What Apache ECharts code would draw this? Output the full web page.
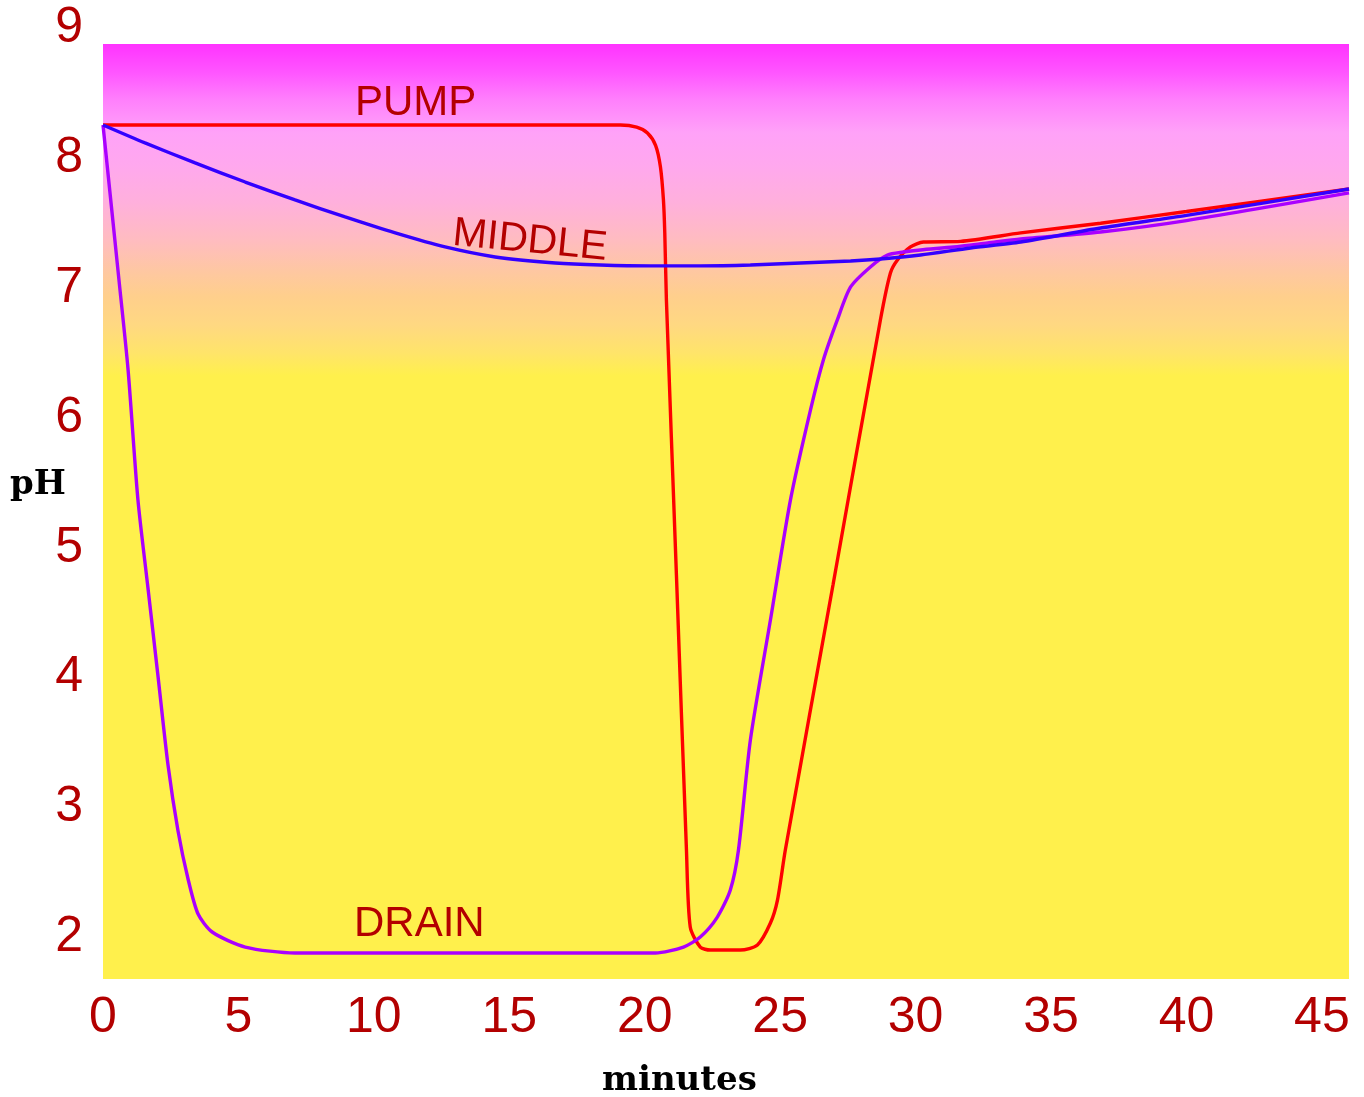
<!DOCTYPE html>
<html>
<head>
<meta charset="utf-8">
<script src="https://cdn.jsdelivr.net/npm/echarts@6/dist/echarts.min.js"></script>
<style>
html,body{margin:0;padding:0;background:#fff;}
#chart{width:1364px;height:1097px;}
</style>
</head>
<body>
<div id="chart"></div>
<script>
// ---- data (minutes, pH) ----
const xTicks = [0, 5, 10, 15, 20, 25, 30, 35, 40, 45];
const yTicks = [2, 3, 4, 5, 6, 7, 8, 9];

const pumpX = [0, 10.0, 19.10, 19.70, 20.10, 20.40, 20.58, 20.69, 20.74, 20.80, 21.17, 21.54, 21.68, 22.05, 22.42, 23.53, 24.16, 24.64, 24.90, 25.19, 26.95, 28.70, 29.07, 29.33, 29.81, 30.29, 31.66, 33.88, 36.83, 40.0, 46.0];
const pumpY = [8.256, 8.256, 8.256, 8.240, 8.195, 8.100, 7.933, 7.679, 7.425, 6.909, 4.791, 2.673, 2.080, 1.926, 1.903, 1.903, 1.942, 2.111, 2.288, 2.673, 4.714, 6.755, 7.117, 7.217, 7.317, 7.355, 7.360, 7.425, 7.500, 7.590, 7.763];

const drainX = [0, 0.59, 0.92, 1.29, 1.66, 2.03, 2.40, 2.77, 3.14, 3.51, 4.03, 5.25, 7.09, 14.0, 20.39, 21.43, 22.05, 22.68, 23.16, 23.46, 23.90, 24.64, 25.38, 26.12, 26.60, 27.11, 27.60, 28.33, 28.96, 29.55, 30.18, 31.40, 32.66, 33.88, 36.83, 40.0, 46.0];
const drainY = [8.256, 7.062, 6.385, 5.369, 4.691, 4.013, 3.328, 2.820, 2.450, 2.180, 2.042, 1.926, 1.880, 1.880, 1.880, 1.926, 2.003, 2.157, 2.365, 2.673, 3.520, 4.444, 5.369, 6.062, 6.450, 6.755, 7.009, 7.163, 7.255, 7.278, 7.294, 7.317, 7.348, 7.378, 7.432, 7.520, 7.733];

const middleX = [0, 1.55, 3.40, 5.25, 7.09, 8.94, 10.79, 12.63, 14.48, 16.70, 18.36, 20.21, 22.05, 23.90, 25.75, 27.60, 28.70, 30.18, 32.03, 33.88, 36.83, 40.0, 46.0];
const middleY = [8.256, 8.118, 7.964, 7.817, 7.679, 7.548, 7.425, 7.317, 7.240, 7.194, 7.178, 7.171, 7.171, 7.178, 7.194, 7.209, 7.224, 7.255, 7.309, 7.355, 7.463, 7.560, 7.763];

const xRange = [0, 46];
const yRange = [1.68, 9];
const bgTop = 8.88;

function pairs(xs, ys) { return xs.map((x, i) => [x, ys[i]]); }

const labelColor = '#b30000';
const chart = echarts.init(document.getElementById('chart'));

const bgGradient = {
  type: 'linear', x: 0, y: 0, x2: 0, y2: 1,
  colorStops: [
    {offset: 0, color: '#ff33ff'},
    {offset: 0.03, color: '#ff55ff'},
    {offset: 0.06, color: '#ff80fc'},
    {offset: 0.095, color: '#ffa2f8'},
    {offset: 0.13, color: '#ffa8ee'},
    {offset: 0.17, color: '#ffb0dc'},
    {offset: 0.21, color: '#ffbcc0'},
    {offset: 0.245, color: '#fec8a0'},
    {offset: 0.27, color: '#ffcf8c'},
    {offset: 0.30, color: '#ffd882'},
    {offset: 0.33, color: '#ffe46a'},
    {offset: 0.355, color: '#fff04c'},
    {offset: 1, color: '#fff04c'}
  ]
};

const lineBase = {type: 'line', showSymbol: false, symbol: 'none', smooth: 0.25, animation: false, silent: true};

chart.setOption({
  animation: false,
  backgroundColor: '#ffffff',
  grid: {left: 103, right: 15, top: 28.4, bottom: 118, containLabel: false},
  xAxis: {
    type: 'value', min: xRange[0], max: xRange[1],
    axisLine: {show: false}, axisTick: {show: false}, splitLine: {show: false},
    axisLabel: {customValues: xTicks, color: labelColor, fontSize: 50, fontFamily: 'Liberation Sans', margin: 14}
  },
  yAxis: {
    type: 'value', min: yRange[0], max: yRange[1],
    axisLine: {show: false}, axisTick: {show: false}, splitLine: {show: false},
    axisLabel: {customValues: yTicks, color: labelColor, fontSize: 50, fontFamily: 'Liberation Sans', margin: 20}
  },
  graphic: [
    {type: 'text', z: 100, left: 10, top: 468, style: {text: 'pH', font: 'bold 34px "DejaVu Serif"', fill: '#000'}},
    {type: 'text', z: 100, left: 602, top: 1064, style: {text: 'minutes', font: 'bold 34px "DejaVu Serif"', fill: '#000'}},
    {type: 'text', z: 100, x: 355, y: 103, style: {text: 'PUMP', font: '42px "Liberation Sans"', fill: labelColor, textAlign: 'left', textVerticalAlign: 'middle'}},
    {type: 'text', z: 100, x: 530, y: 241, rotation: -0.098, style: {text: 'MIDDLE', font: '41px "Liberation Sans"', fill: labelColor, textAlign: 'center', textVerticalAlign: 'middle'}},
    {type: 'text', z: 100, x: 354, y: 924, style: {text: 'DRAIN', font: '42px "Liberation Sans"', fill: labelColor, textAlign: 'left', textVerticalAlign: 'middle'}}
  ],
  series: [
    Object.assign({}, lineBase, {
      name: 'PUMP', data: pairs(pumpX, pumpY), z: 3,
      lineStyle: {color: '#ff0000', width: 3.4},
      markArea: {
        silent: true,
        itemStyle: {color: bgGradient},
        data: [[{xAxis: xRange[0], yAxis: bgTop}, {xAxis: xRange[1], yAxis: yRange[0]}]]
      }
    }),
    Object.assign({}, lineBase, {name: 'DRAIN', data: pairs(drainX, drainY), z: 4, lineStyle: {color: '#aa00ff', width: 3.4}}),
    Object.assign({}, lineBase, {name: 'MIDDLE', data: pairs(middleX, middleY), z: 5, lineStyle: {color: '#3300ff', width: 3.4}})
  ]
});
</script>
</body>
</html>
